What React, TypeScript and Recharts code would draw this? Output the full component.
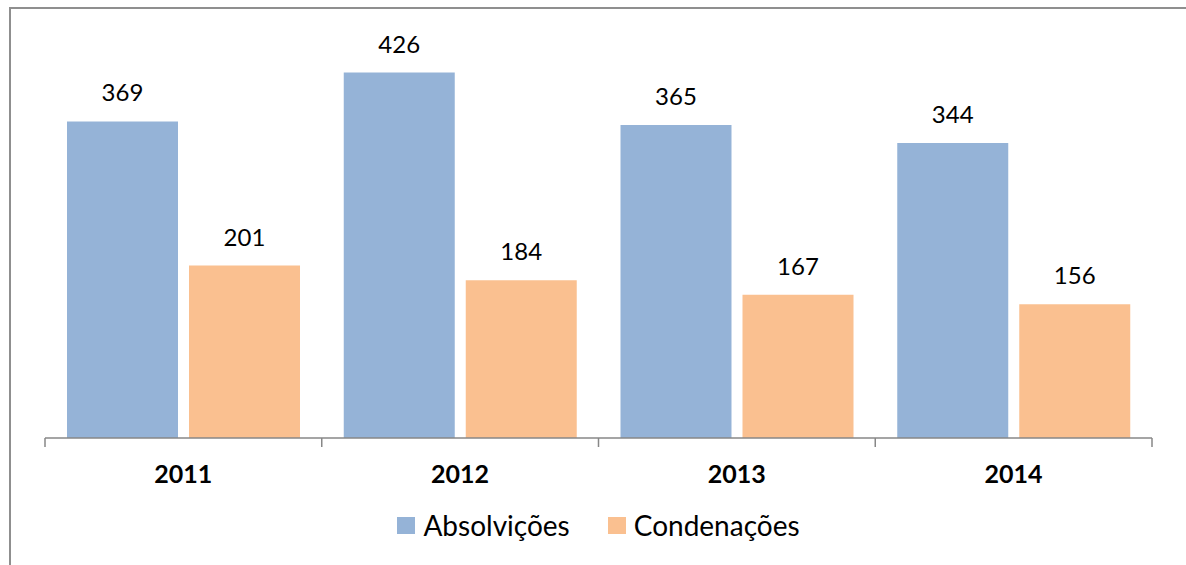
import { BarChart, Bar, XAxis, YAxis, LabelList, Legend } from "recharts";

const years = ["2011", "2012", "2013", "2014"];
const absolvicoes = [369, 426, 365, 344];
const condenacoes = [201, 184, 167, 156];
const seriesNames = ["Absolvições", "Condenações"];
const seriesColors = ["#95B3D7", "#FAC090"];

const data = years.map((year, i) => ({
  year,
  abs: absolvicoes[i],
  cond: condenacoes[i],
}));

const FONT = "Lato, 'Open Sans', sans-serif";
const AXIS_GRAY = "#878787";

function YearTick(props: any) {
  const { x, y, payload, index, visibleTicksCount } = props;
  const half = payload?.offset ?? 1107 / 8;
  return (
    <g>
      <line x1={x - half} x2={x - half} y1={y} y2={y + 9} stroke={AXIS_GRAY} strokeWidth={1.5} />
      {index === visibleTicksCount - 1 && (
        <line x1={x + half} x2={x + half} y1={y} y2={y + 9} stroke={AXIS_GRAY} strokeWidth={1.5} />
      )}
      <text
        x={x}
        y={y + 45}
        textAnchor="middle"
        fill="#000"
        fontFamily={FONT}
        fontSize={25}
        fontWeight="bold"
      >
        {payload.value}
      </text>
    </g>
  );
}

function LegendRow({ payload }: any) {
  return (
    <div
      style={{
        display: "flex",
        justifyContent: "center",
        alignItems: "center",
        height: 40,
        fontFamily: FONT,
        fontSize: 28,
        color: "#000",
      }}
    >
      {(payload || []).map((entry: any, i: number) => (
        <span
          key={entry.value}
          style={{ display: "flex", alignItems: "center", marginRight: i === 0 ? 38 : 0 }}
        >
          <span
            style={{ width: 18, height: 17, background: entry.color, marginRight: 8, display: "inline-block" }}
          />
          {entry.value}
        </span>
      ))}
    </div>
  );
}

export default function App() {
  return (
    <>
      <style>{"html, body { margin: 0; overflow: hidden; }"}</style>
      <div
        style={{
          position: "fixed",
          left: 0,
          top: 0,
          width: 1186,
          height: 565,
          overflow: "hidden",
          background: "#fff",
        }}
      >
        <div
          style={{
            position: "absolute",
            left: 9,
            top: 7,
            width: 1200,
            height: 600,
            border: "2px solid #8f8f8f",
          }}
        />
        <div style={{ position: "absolute", left: 0, top: 0 }}>
          <BarChart
            width={1186}
            height={565}
            data={data}
            margin={{ top: 52, right: 34, bottom: 20, left: 45 }}
            barCategoryGap={22}
            barGap={11}
          >
            <XAxis
              dataKey="year"
              height={67}
              axisLine={{ stroke: AXIS_GRAY, strokeWidth: 1.5 }}
              tickLine={false}
              tickSize={0}
              tickMargin={0}
              tick={<YearTick />}
              interval={0}
            />
            <YAxis hide domain={[0, 450]} />
            <Legend verticalAlign="bottom" content={<LegendRow />} />
            <Bar dataKey="abs" name={seriesNames[0]} fill={seriesColors[0]} isAnimationActive={false}>
              <LabelList dataKey="abs" position="top" offset={20} fill="#000" fontFamily={FONT} fontSize={24} />
            </Bar>
            <Bar dataKey="cond" name={seriesNames[1]} fill={seriesColors[1]} isAnimationActive={false}>
              <LabelList dataKey="cond" position="top" offset={20} fill="#000" fontFamily={FONT} fontSize={24} />
            </Bar>
          </BarChart>
        </div>
      </div>
    </>
  );
}
